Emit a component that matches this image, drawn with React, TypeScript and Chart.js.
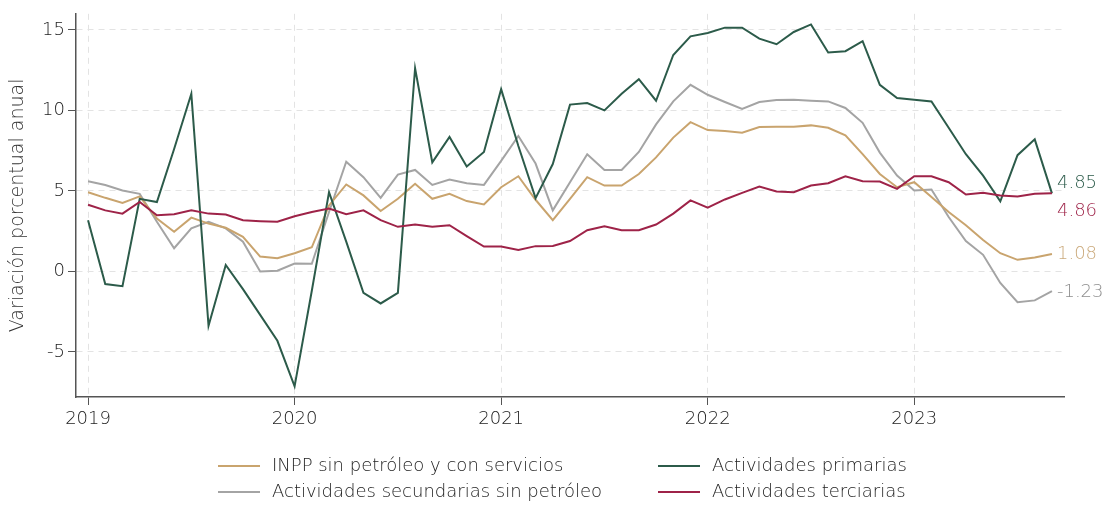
import React, { useEffect, useRef } from "react";
import { Chart, registerables } from "chart.js";

Chart.register(...registerables);

// ---- Data (monthly, Jan 2019 – Sep 2023) ----
const YEAR_LABELS = ["2019", "2020", "2021", "2022", "2023"];
const START_YEAR = 2019;
const N_MONTHS = 57;
const MONTHS: string[] = Array.from({ length: N_MONTHS }, (_, i) => {
  const y = START_YEAR + Math.floor(i / 12);
  const m = (i % 12) + 1;
  return `${y}-${m < 10 ? "0" + m : m}`;
});

const INPP = [
  4.92, 4.57, 4.25, 4.66, 3.28, 2.46, 3.34, 2.97, 2.71, 2.15, 0.92, 0.82,
  1.13, 1.5, 4.1, 5.4, 4.72, 3.75, 4.51, 5.44, 4.51, 4.82, 4.37, 4.16,
  5.23, 5.91, 4.45, 3.18, 4.51, 5.85, 5.33, 5.33, 6.05, 7.08, 8.31, 9.27,
  8.78, 8.72, 8.62, 8.97, 8.98, 8.98, 9.07, 8.92, 8.45, 7.28, 6.05, 5.23,
  5.54, 4.62, 3.69, 2.87, 1.95, 1.13, 0.72, 0.86, 1.08,
];
const PRIMARIAS = [
  3.18, -0.78, -0.92, 4.51, 4.31, 7.6, 11.03, -3.38, 0.4, -1.1, -2.7, -4.31,
  -7.14, -1.2, 4.92, 1.85, -1.33, -1.99, -1.33, 12.62, 6.77, 8.35, 6.52, 7.42,
  11.32, 7.79, 4.55, 6.67, 10.36, 10.46, 10.0, 11.03, 11.94, 10.6, 13.44, 14.6,
  14.81, 15.14, 15.14, 14.46, 14.11, 14.87, 15.34, 13.6, 13.68, 14.3, 11.59, 10.77,
  10.66, 10.56, 8.92, 7.28, 5.95, 4.35, 7.22, 8.2, 4.85,
];
const SECUNDARIAS = [
  5.6, 5.37, 5.03, 4.82, 3.08, 1.44, 2.67, 3.08, 2.67, 1.85, 0.0, 0.04,
  0.49, 0.47, 3.69, 6.81, 5.85, 4.57, 6.01, 6.3, 5.37, 5.7, 5.48, 5.37,
  6.87, 8.41, 6.7, 3.79, 5.54, 7.28, 6.3, 6.3, 7.42, 9.13, 10.56, 11.59,
  10.97, 10.52, 10.09, 10.52, 10.64, 10.66, 10.6, 10.56, 10.15, 9.23, 7.38, 5.95,
  5.03, 5.09, 3.38, 1.89, 1.03, -0.72, -1.91, -1.8, -1.23,
];
const TERCIARIAS = [
  4.14, 3.79, 3.59, 4.31, 3.49, 3.55, 3.79, 3.59, 3.53, 3.18, 3.12, 3.08,
  3.43, 3.69, 3.9, 3.55, 3.79, 3.18, 2.77, 2.91, 2.77, 2.87, 2.19, 1.54,
  1.54, 1.33, 1.57, 1.58, 1.89, 2.56, 2.81, 2.56, 2.56, 2.91, 3.59, 4.41,
  3.96, 4.47, 4.88, 5.27, 4.96, 4.92, 5.33, 5.48, 5.91, 5.6, 5.58, 5.13,
  5.91, 5.91, 5.54, 4.78, 4.88, 4.72, 4.66, 4.82, 4.86,
];

const SERIES_NAMES = [
  "INPP sin petróleo y con servicios",
  "Actividades primarias",
  "Actividades secundarias sin petróleo",
  "Actividades terciarias",
];
const SERIES_VALUES = [INPP, PRIMARIAS, SECUNDARIAS, TERCIARIAS];
const END_LABELS = ["1.08", "4.85", "-1.23", "4.86"];

// ---- Styles ----
const COLORS = ["#C9A46E", "#2C5B4A", "#A4A4A4", "#9E2348"];
const LABEL_COLORS = ["#CBAA7C", "#2C5B4A", "#8E8E8E", "#9E2348"];
const LABEL_DY = [0, -10, 1, 18];
const DRAW_ORDER = [2, 1, 3, 0]; // chart.js "order": lower drawn on top
const FONT = "'DejaVu Sans', 'Noto Sans', sans-serif";
const WEIGHT = "200";
const FSIZE = 18;
const TEXT = "#222";

const endLabelPlugin = {
  id: "endLabels",
  afterDatasetsDraw(chart: any) {
    const ctx = chart.ctx;
    ctx.save();
    ctx.font = `${WEIGHT} ${FSIZE}px ${FONT}`;
    ctx.textBaseline = "middle";
    ctx.textAlign = "left";
    chart.data.datasets.forEach((ds: any, di: number) => {
      const meta = chart.getDatasetMeta(di);
      const pt = meta.data[meta.data.length - 1];
      if (!pt) return;
      ctx.fillStyle = LABEL_COLORS[di];
      ctx.fillText(END_LABELS[di], pt.x + 5, pt.y + LABEL_DY[di]);
    });
    ctx.restore();
  },
};

const legendPlugin = {
  id: "customLegend",
  afterDraw(chart: any) {
    const ctx = chart.ctx;
    const cols = [218, 658];
    const rows = [466, 492];
    ctx.save();
    ctx.font = `${WEIGHT} ${FSIZE}px ${FONT}`;
    ctx.textBaseline = "middle";
    ctx.textAlign = "left";
    SERIES_NAMES.forEach((name, i) => {
      const cx = cols[i % 2];
      const cy = rows[Math.floor(i / 2)];
      ctx.strokeStyle = COLORS[i];
      ctx.lineWidth = 2;
      ctx.beginPath();
      ctx.moveTo(cx, cy);
      ctx.lineTo(cx + 42, cy);
      ctx.stroke();
      ctx.fillStyle = TEXT;
      ctx.fillText(name, cx + 54, cy);
    });
    ctx.restore();
  },
};

export default function App() {
  const canvasRef = useRef<HTMLCanvasElement | null>(null);

  useEffect(() => {
    document.body.style.margin = "0";
    const canvas = canvasRef.current;
    if (!canvas) return;
    const tickFont = { family: FONT, size: FSIZE, weight: WEIGHT as any };
    const chart = new Chart(canvas, {
      type: "line",
      data: {
        labels: MONTHS,
        datasets: SERIES_NAMES.map((name, i) => ({
          label: name,
          data: SERIES_VALUES[i].map((v, j) => ({ x: j, y: v })),
          borderColor: COLORS[i],
          backgroundColor: COLORS[i],
          borderWidth: 2,
          pointRadius: 0,
          tension: 0,
          fill: false,
          order: DRAW_ORDER[i],
        })),
      },
      options: {
        animation: false,
        responsive: true,
        maintainAspectRatio: false,
        layout: { padding: { left: 0, right: 43, top: 10, bottom: 69 } },
        plugins: {
          legend: { display: false },
          tooltip: { enabled: false },
        },
        scales: {
          x: {
            type: "linear",
            min: -0.7,
            max: 56.7,
            afterBuildTicks: (s: any) => {
              s.ticks = YEAR_LABELS.map((_, i) => ({ value: i * 12 }));
            },
            afterFit: (s: any) => {
              s.height = 40;
            },
            ticks: {
              callback: (v: any) => YEAR_LABELS[Math.round(Number(v) / 12)],
              color: TEXT,
              font: tickFont,
              padding: 4,
              maxRotation: 0,
              autoSkip: false,
            },
            grid: {
              color: "#e3e3e3",
              tickColor: "#555",
              tickLength: 8,
              lineWidth: 1,
            },
            border: { color: "#555", width: 1.5, dash: [6, 5] },
          },
          y: {
            min: -7.8,
            max: 16,
            afterBuildTicks: (s: any) => {
              s.ticks = [-5, 0, 5, 10, 15].map((v) => ({ value: v }));
            },
            afterFit: (s: any) => {
              s.width = 76;
            },
            ticks: {
              color: TEXT,
              font: tickFont,
              padding: 3,
            },
            grid: {
              color: "#e3e3e3",
              tickColor: "#555",
              tickLength: 8,
              lineWidth: 1,
            },
            border: { color: "#555", width: 1.5, dash: [6, 5] },
            title: {
              display: true,
              text: "Variación porcentual anual",
              color: "#333",
              font: { family: FONT, size: 19, weight: WEIGHT as any },
              padding: { top: 7, bottom: 0 },
            },
          },
        },
      },
      plugins: [endLabelPlugin, legendPlugin],
    });
    return () => chart.destroy();
  }, []);

  return (
    <div style={{ width: 1107, height: 506, position: "relative" }}>
      <canvas ref={canvasRef} />
    </div>
  );
}
